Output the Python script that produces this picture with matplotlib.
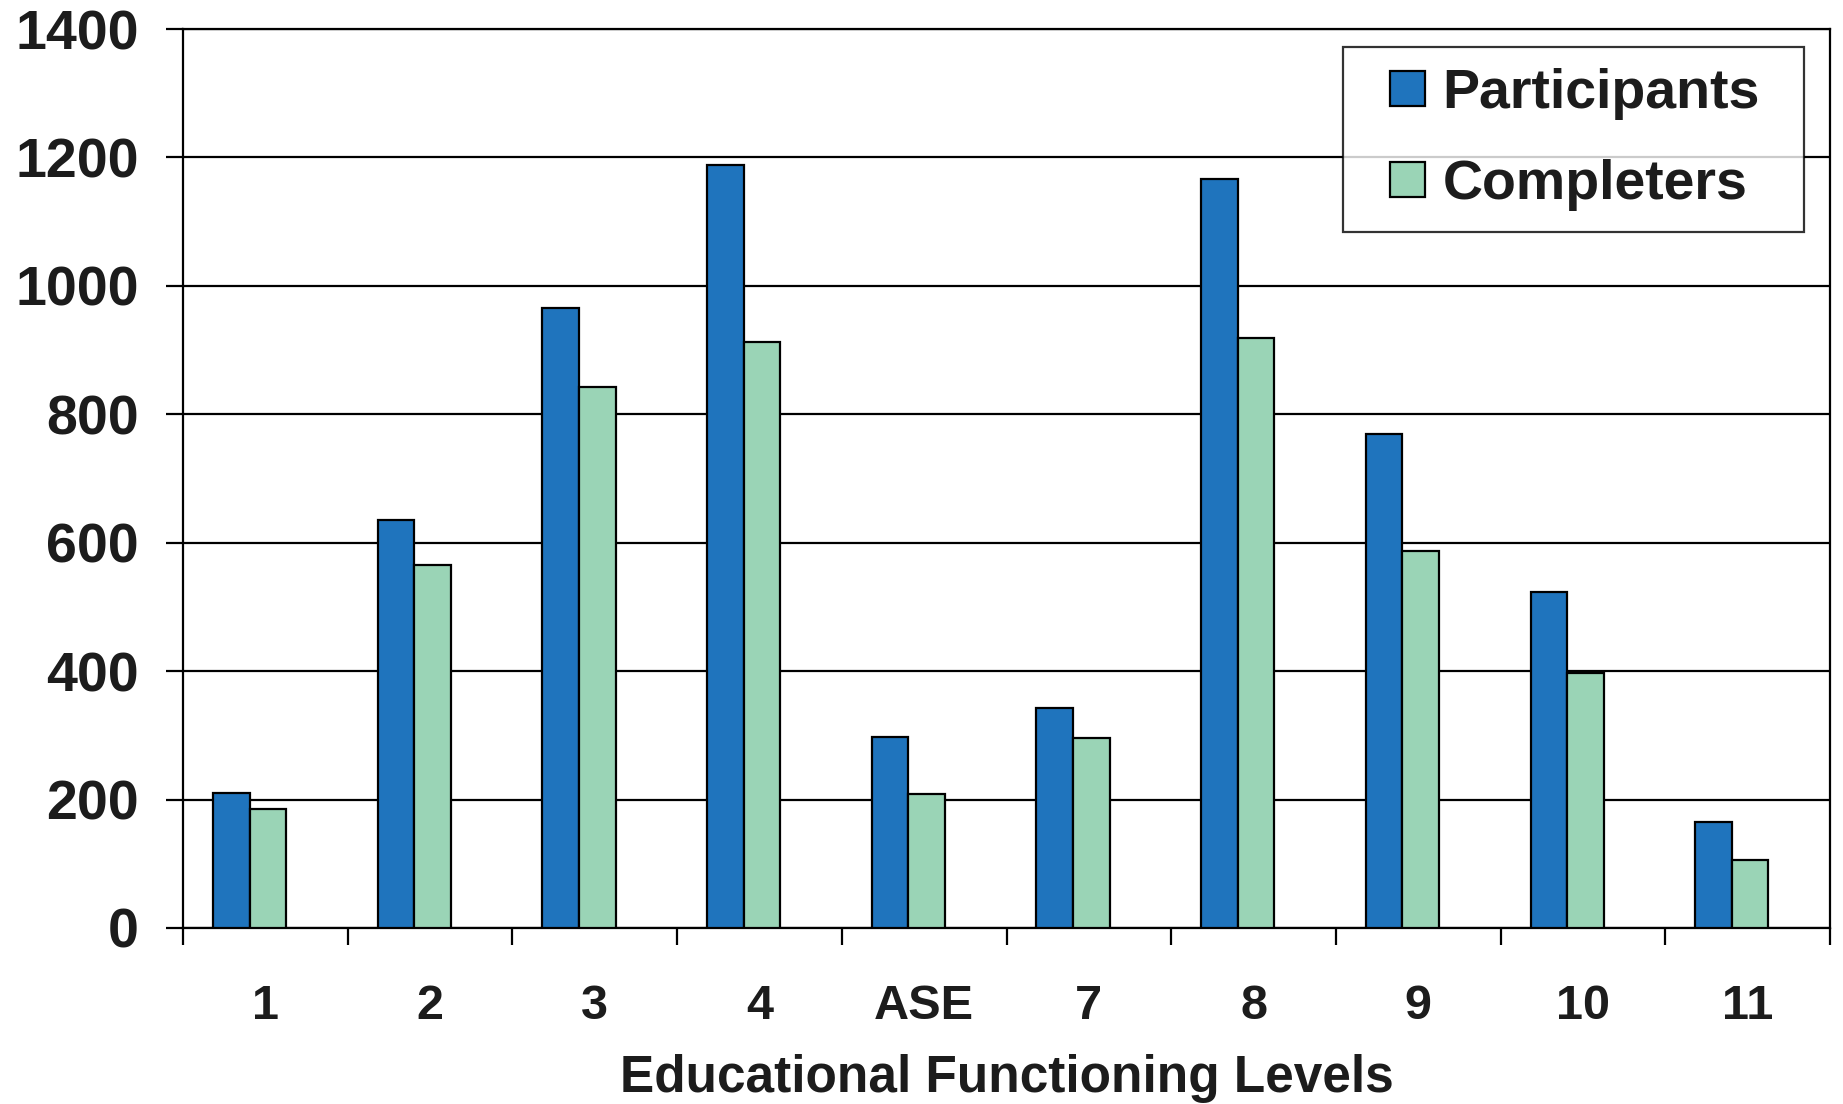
import numpy as np
import matplotlib
matplotlib.use("Agg")
import matplotlib.pyplot as plt
from matplotlib.patches import Rectangle
from matplotlib.legend_handler import HandlerPatch
from matplotlib.ticker import NullFormatter

levels = ["1", "2", "3", "4", "ASE", "7", "8", "9", "10", "11"]
participants = [210, 635, 966, 1188, 297, 343, 1166, 769, 523, 165]
completers = [186, 566, 842, 912, 208, 296, 919, 587, 397, 106]
y_ticks = [0, 200, 400, 600, 800, 1000, 1200, 1400]

blue = "#1f74bd"
mint = "#9ad4b6"
ink = "#1c1c1c"

plt.rcParams["font.family"] = ["Liberation Sans", "DejaVu Sans"]
plt.rcParams["font.weight"] = "bold"


def square_right(legend, orig_handle, xdescent, ydescent, width, height, fontsize):
    # square swatch pushed to the right end of the handle box
    return Rectangle((-xdescent + width - height, -ydescent), height, height)


fig = plt.figure(figsize=(18.43, 11.04), dpi=100)
ax = fig.add_axes([183 / 1843, 1 - 928 / 1104, (1830 - 183) / 1843, (928 - 29) / 1104])

x = np.arange(len(levels))
w = 0.222
p_bars = ax.bar(x - 0.207, participants, w, color=blue, edgecolor="black",
                linewidth=1.6, zorder=3)
c_bars = ax.bar(x + 0.015, completers, w, color=mint, edgecolor="black",
                linewidth=1.6, zorder=3)

ax.set_xlim(-0.5, len(levels) - 0.5)
ax.set_ylim(0, 1400)
ax.set_yticks(y_ticks)
ax.yaxis.grid(True, color="black", linewidth=1.6)
ax.set_axisbelow(True)

ax.set_xticks(np.arange(-0.5, len(levels), 1))
ax.xaxis.set_major_formatter(NullFormatter())
ax.set_xticks(x, labels=levels, minor=True)
ax.tick_params(axis="x", which="major", direction="out", length=12, width=1.6)
ax.tick_params(axis="x", which="minor", length=0, pad=40, labelsize=35, labelcolor=ink)
ax.tick_params(axis="y", direction="out", length=12, width=1.6, pad=20,
               labelsize=40, labelcolor=ink)

for s in ax.spines.values():
    s.set_color("black")
    s.set_linewidth(1.6)

ax.set_xlabel("Educational Functioning Levels", fontsize=37, fontweight="bold", color=ink)
ax.xaxis.set_label_coords(0.5, (928 - 1054) / 899)

# legend box stretched to a fixed width, like the spreadsheet original
leg_x0 = (1343 - 183) / 1647
leg_w = (1804 - 1343) / 1647
leg_top = (928 - 47) / 899
leg = ax.legend([p_bars.patches[0], c_bars.patches[0]], ["Participants", "Completers"],
                loc="upper left", bbox_to_anchor=(leg_x0, leg_top - 0.4, leg_w, 0.4),
                mode="expand", borderaxespad=0,
                fontsize=40, frameon=True, fancybox=False, shadow=False,
                handlelength=1.1, handleheight=0.61, handletextpad=0.31,
                labelspacing=0.70, borderpad=0.38,
                handler_map={Rectangle: HandlerPatch(patch_func=square_right)})
leg.get_frame().set_edgecolor("black")
leg.get_frame().set_linewidth(1.6)
for t in leg.get_texts():
    t.set_color(ink)

fig.savefig("out.png", dpi=100, facecolor="white")
